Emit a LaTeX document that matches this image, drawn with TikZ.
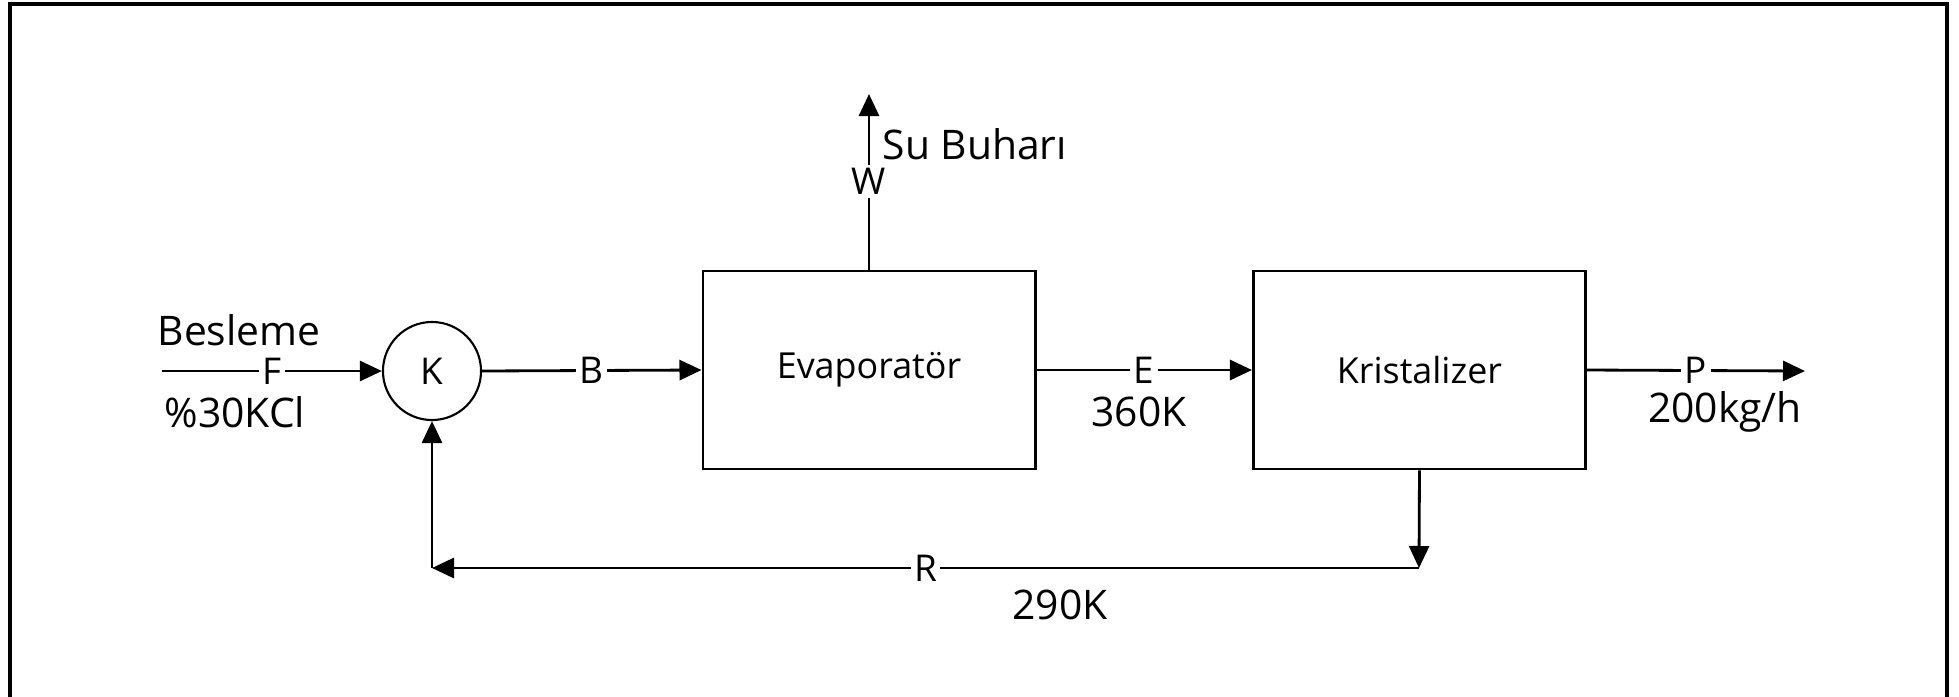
\documentclass[tikz,border=0pt]{standalone}
\usepackage{fontspec}
\setmainfont{Open Sans}
\usetikzlibrary{arrows.meta}

\tikzset{
  unit/.style={draw, line width=0.8pt, minimum width=3.32cm, minimum height=1.98cm, font=\fontsize{10.2}{12}\selectfont},
  mixer/.style={draw, circle, line width=0.6pt, minimum size=0.98cm, inner sep=0pt, font=\fontsize{10.5}{12}\selectfont},
  stream/.style={line width=0.8pt, -{Triangle[length=2.2mm, width=2mm]}},
  tag/.style={fill=white, inner sep=1pt, font=\fontsize{10.5}{12}\selectfont},
  note/.style={inner sep=0pt, font=\fontsize{11.6}{13}\selectfont}
}

\begin{document}
\begin{tikzpicture}[x=0.01cm, y=-0.01cm]
\useasboundingbox (0,0) rectangle (1959,696);
\draw[line width=1pt] (10,720) -- (10,4) -- (1947,4) -- (1947,720);

\node[mixer] (K) at (432,371) {K};
\node[unit] (evap) at (869,370) {Evaporatör};
\node[unit] (kris) at (1419.5,370) {Kristalizer};

\coordinate (feed) at (162,371);
\coordinate (prod) at (1805,371);
\coordinate (vap) at (869,94);
\coordinate (rc) at (1419,568);
\coordinate (rk) at (432,568);

\draw[stream] (feed) -- node[tag] (F) {F} (K.west);
\draw[stream] (K.east) -- node[tag] (B) {B} (evap.west);
\draw[stream] (evap.east) -- node[tag] (E) {E} (kris.west);
\draw[stream] (kris.east) -- node[tag] (P) {P} (prod);
\draw[stream] (evap.north) -- node[tag] (W) {W} (vap);
\draw[stream] (kris.south) -- (rc);
\draw[stream] (rc) -- node[tag] (R) {R} (rk);
\draw[stream] (rk) -- (K.south);

\node[note] (besleme) at (239,330) {Besleme};
\node[note] (kcl) at (235,412) {\%30KCl};
\node[note] (tE) at (1139,412) {360K};
\node[note] (tP) at (1725,412) {200kg/h};
\node[note] (tR) at (1060,605) {290K};
\node[note, anchor=west] (buhar) at (882,144) {Su Buharı};
\end{tikzpicture}
\end{document}
